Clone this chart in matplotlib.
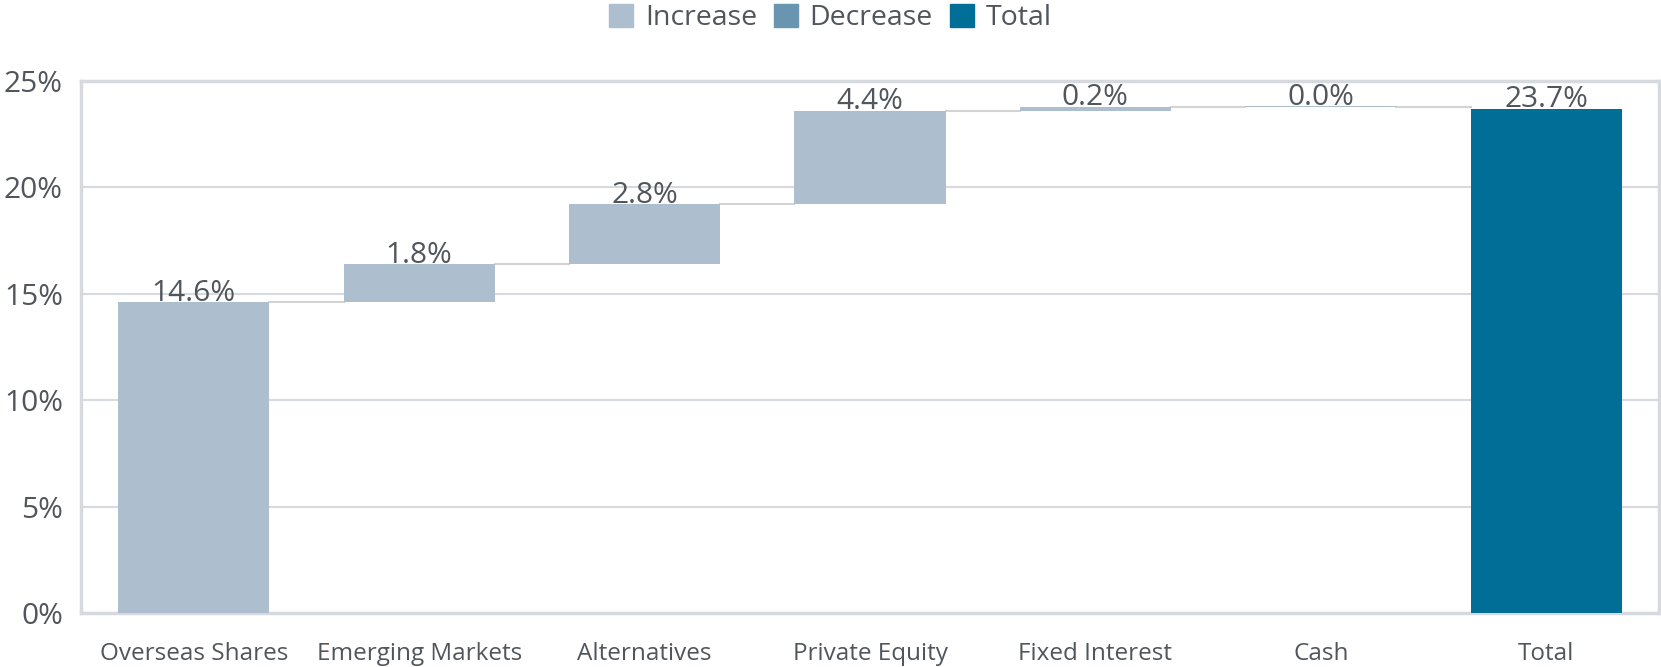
import matplotlib
matplotlib.use("Agg")
import matplotlib.pyplot as plt
from matplotlib.patches import Patch

categories = ["Overseas Shares", "Emerging Markets", "Alternatives", "Private Equity",
              "Fixed Interest", "Cash", "Total"]
changes = [14.6, 1.8, 2.8, 4.4, 0.2, 0.0]
total_value = 23.7
yticks = [0, 5, 10, 15, 20, 25]

c_inc = "#adbfce"
c_dec = "#6a95b0"
c_tot = "#006e96"
txt = "#50565c"
grid_c = "#d6d9dd"

plt.rcParams['font.family'] = ['Open Sans', 'DejaVu Sans']

fig = plt.figure(figsize=(16.61, 6.67), dpi=100)
ax = fig.add_axes([81/1661, 1-613/667, (1659-81)/1661, (613-81)/667])

bw = 0.67
cum = 0.0
tops = []
for i, v in enumerate(changes):
    bottom = cum if v >= 0 else cum + v
    color = c_inc if v >= 0 else c_dec
    h = abs(v) if abs(v) > 0 else 0.04
    ax.bar(i, h, bottom=bottom if abs(v) > 0 else cum - 0.02, width=bw, color=color, zorder=3)
    cum += v
    tops.append(cum)
    ax.annotate(f"{v:.1f}%", (i, max(cum, cum - v)), xytext=(0, -4), textcoords="offset points",
                ha="center", va="bottom", fontsize=21.5, color=txt, zorder=4)
n = len(changes)
ax.bar(n, total_value, width=bw, color=c_tot, zorder=3)
ax.annotate(f"{total_value:.1f}%", (n, total_value), xytext=(0, -4), textcoords="offset points",
            ha="center", va="bottom", fontsize=21.5, color=txt, zorder=4)

# connectors
for i in range(n):
    y = tops[i]
    ax.plot([i + bw/2, i + 1 - bw/2], [y, y], color="#d3d3d3", lw=1.5, zorder=2)

ax.set_xlim(-0.5, n + 0.5)
ax.set_ylim(0, 25)
ax.set_yticks(yticks)
ax.set_yticklabels([f"{t}%" for t in yticks])
ax.set_xticks(range(n + 1))
ax.set_xticklabels(categories)
ax.tick_params(axis="y", length=0, pad=13, labelsize=21.5, labelcolor=txt)
ax.tick_params(axis="x", length=0, pad=21, labelsize=17.5, labelcolor=txt)
ax.yaxis.grid(True, color=grid_c, lw=1.5, zorder=0)
ax.set_axisbelow(True)
for s in ax.spines.values():
    s.set_color(grid_c)
    s.set_linewidth(2.5)

handles = [Patch(color=c_inc, label="Increase"), Patch(color=c_dec, label="Decrease"),
           Patch(color=c_tot, label="Total")]
leg = fig.legend(handles=handles, loc="center", bbox_to_anchor=(0.5, 1-18/667), ncol=3,
                 frameon=False, fontsize=20.5, handlelength=0.85, handleheight=0.85,
                 handletextpad=0.4, columnspacing=0.6)
for t in leg.get_texts():
    t.set_color(txt)

fig.savefig("out.png", dpi=100)
